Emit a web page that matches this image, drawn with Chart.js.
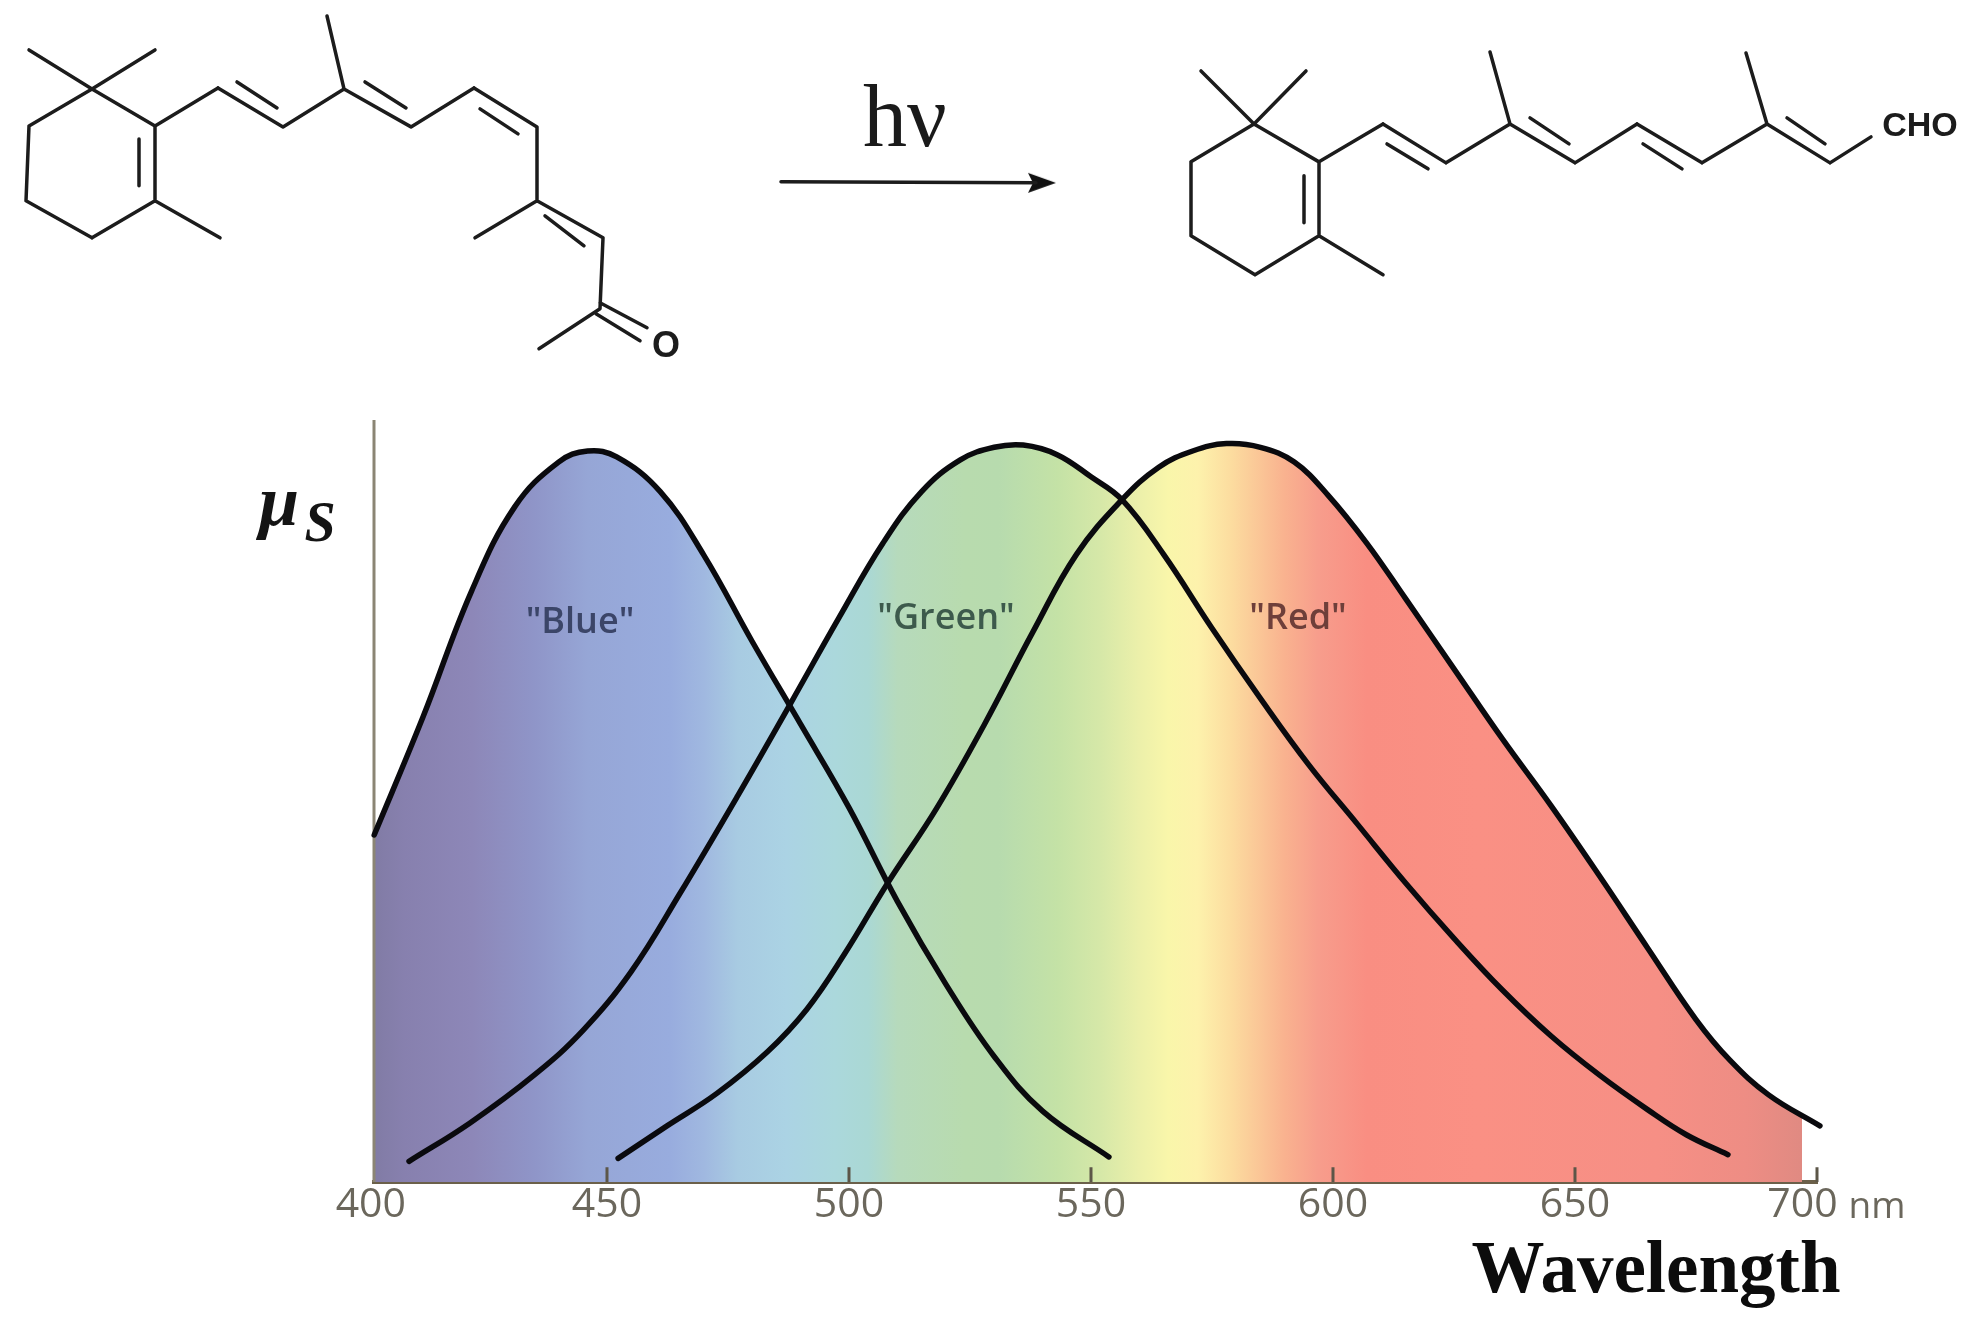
<!DOCTYPE html>
<html>
<head>
<meta charset="utf-8">
<title>Cone absorption spectra</title>
<script src="https://cdn.jsdelivr.net/npm/chart.js@4/dist/chart.umd.min.js"></script>
<style>
    html, body { margin: 0; padding: 0; background: #fff; }
    #chartBox { width: 1972px; height: 1325px; }
</style>
</head>
<body>
<div id="chartBox"><canvas id="coneChart" width="1972" height="1325"></canvas></div>
<script>
/* ==================== DATA ==================== */

const tickLabels = ['400', '450', '500', '550', '600', '650', '700'];
const tickLabelWave = [401.2, 450, 500, 550, 600, 650, 697];
const tickMarkValues = [450, 500, 550, 600, 650, 700];
const coneNames = ['"Blue"', '"Green"', '"Red"'];

const blueWave = [401.9, 412, 422, 431, 440, 446, 452, 461, 470, 480, 490, 500, 510, 520, 530, 540, 553.7];
const blueVal = [47, 63, 80, 91.5, 97.5, 99, 98.2, 93.5, 84.9, 73.2, 62, 50.7, 38, 26.8, 17, 9.6, 3.4];

const greenWave = [409.1, 421.7, 435, 445, 455, 465, 477, 488, 498, 507, 515, 523, 530, 536, 543, 550, 556.4, 565, 575, 585, 595, 605, 615, 625, 635, 645, 655, 665, 673, 681.6];
const greenVal = [2.8, 8, 14.5, 20.5, 28.5, 39, 52.3, 64.9, 76.5, 86.5, 93.5, 97.8, 99.5, 99.8, 98.5, 95.5, 92.4, 85, 75, 65.5, 56.5, 48.5, 40.5, 33, 26, 19.8, 14.5, 9.8, 6.4, 3.7];

const redWave = [452.3, 462.4, 472.7, 483.1, 491.3, 499, 508, 518, 528, 538, 547, 556.4, 564, 571, 578, 585, 592, 599, 607, 615, 625, 635, 645, 655, 665, 675, 682, 690, 700.6];
const redVal = [3.2, 7.6, 12, 17.6, 23.4, 30.8, 40.5, 50.5, 62, 74.5, 85, 92.4, 96.8, 99, 100, 99.5, 97.5, 93, 86.5, 79, 69.5, 60, 51, 41.5, 31.7, 22, 16.5, 11.8, 7.6];

// Spectrum colours under the curves
const spectrumWave = [400, 408, 422, 435, 446, 463, 470, 477, 487, 497, 504, 510, 524, 531, 543, 552, 560, 566, 572, 579, 590, 597, 607, 630, 667, 685, 696.9];
const spectrumColors = ['#7f7aa2', '#8780ae', '#8d87b8', '#8f95c8', '#96a6d6', '#98acde', '#a0b8e0', '#a8cbe2', '#abd3e4', '#abd8dc', '#aad8d4', '#b6dabc', '#b8dbae', '#b7dbae', '#c4e2a6', '#d6e8a8', '#ecf0aa', '#f9f6aa', '#fdf2ac', '#fcdc9f', '#f9b28f', '#f79d8c', '#f98e82', '#fa9084', '#f68f85', '#ee8d84', '#e08a82'];

// Molecule bonds, each one [x1, y1, x2, y2] in picture units
const leftBonds = [
    [92, 88, 29, 125], [29, 125, 26, 200], [26, 200, 92, 237], [92, 237, 155, 200], [155, 200, 155, 125], [155, 125, 92, 88],
    [92, 88, 29, 49], [92, 88, 155, 49], [155, 200, 220, 237], [139, 138, 139, 185],
    [155, 125, 218, 87], [218, 87, 283, 126], [283, 126, 344, 88], [344, 88, 327, 15], [344, 88, 411, 126],
    [411, 126, 474, 87], [474, 87, 537, 126], [537, 126, 537, 200], [537, 200, 603, 237], [537, 200, 475, 237],
    [603, 237, 600, 308], [600, 308, 539, 348], [600, 302, 647, 327], [596, 313, 640, 340],
    [237, 81, 277, 107], [365, 81, 406, 107], [480, 108, 518, 133], [545, 215, 584, 245]
];
const rightBonds = [
    [1254, 123, 1191, 161], [1191, 161, 1191, 235], [1191, 235, 1255, 274], [1255, 274, 1319, 235], [1319, 235, 1319, 161], [1319, 161, 1254, 123],
    [1254, 123, 1201, 70], [1254, 123, 1306, 70], [1319, 235, 1383, 274], [1304, 175, 1304, 222],
    [1319, 161, 1383, 123], [1383, 123, 1446, 162], [1446, 162, 1510, 123], [1510, 123, 1490, 51], [1510, 123, 1575, 162],
    [1575, 162, 1637, 123], [1637, 123, 1702, 162], [1702, 162, 1767, 123], [1767, 123, 1746, 52], [1767, 123, 1830, 162], [1830, 162, 1871, 136],
    [1387, 143, 1428, 168], [1530, 117, 1569, 143], [1643, 143, 1682, 168], [1787, 117, 1825, 143]
];
const arrowShaft = [781, 181, 1036, 182];
const arrowHead = [1042, 182];

/* ==================== HELPERS ==================== */

// Pair up wavelength and value arrays for a line dataset
function toPoints(xs, ys) {
    return xs.map((x, i) => ({ x: x, y: ys[i] }));
}

// Flatten bonds into one broken line, null points make the gaps
function bondPoints(bonds) {
    const out = [];
    bonds.forEach(b => {
        out.push({ x: b[0], y: b[1] }, { x: b[2], y: b[3] }, { x: b[2], y: null });
    });
    return out;
}

// Short upward tick marks, the axis itself only draws its labels
function tickMarkPoints(height) {
    const out = [];
    tickMarkValues.forEach(v => {
        out.push({ x: v, y: 0 }, { x: v, y: height }, { x: v, y: null });
    });
    return out;
}

// Horizontal spectrum gradient, sharp cut where the colour band stops
function spectrumFill(context) {
    const chart = context.chart;
    const xScale = chart.scales.x;
    const left = xScale ? xScale.getPixelForValue(400) : NaN;
    const right = xScale ? xScale.getPixelForValue(701) : NaN;
    if (!Number.isFinite(left) || !Number.isFinite(right)) return '#94a6d8';
    const grad = chart.ctx.createLinearGradient(left, 0, right, 0);
    spectrumWave.forEach((w, i) => grad.addColorStop((w - 400) / 301, spectrumColors[i]));
    grad.addColorStop((696.95 - 400) / 301, 'rgba(255,255,255,0)');
    grad.addColorStop(1, 'rgba(255,255,255,0)');
    return grad;
}

// Notched arrow head, used as the point style of the arrow dataset
function arrowHeadImage() {
    const c = document.createElement('canvas');
    c.width = 30;
    c.height = 22;
    const g = c.getContext('2d');
    g.fillStyle = '#111';
    g.beginPath();
    g.moveTo(1, 1);
    g.lineTo(29, 11);
    g.lineTo(1, 21);
    g.lineTo(6, 11);
    g.closePath();
    g.fill();
    return c;
}

function coneDataset(xs, ys) {
    return {
        type: 'line',
        data: toPoints(xs, ys),
        borderColor: '#0a0a0e',
        borderWidth: 5.5,
        backgroundColor: spectrumFill,
        fill: 'origin',
        tension: 0.4,
        borderCapStyle: 'round',
        pointRadius: 0,
        clip: false
    };
}

function bondDataset(bonds) {
    return {
        type: 'line',
        xAxisID: 'molX',
        yAxisID: 'molY',
        data: bondPoints(bonds),
        borderColor: '#1c1c1c',
        borderWidth: 3.5,
        borderCapStyle: 'round',
        pointRadius: 0,
        fill: false,
        tension: 0,
        spanGaps: false,
        clip: false
    };
}

/* ==================== TEXT PLUGIN ==================== */

const SERIF = '"Liberation Serif", serif';
const SANS = '"Open Sans", sans-serif';
const ARIAL = '"Liberation Sans", sans-serif';
const textItems = [
    { text: coneNames[0], x: 580, y: 633, font: '600 36px ' + SANS, color: '#3b4568' },
    { text: coneNames[1], x: 946, y: 629, font: '600 36px ' + SANS, color: '#3d5a4c' },
    { text: coneNames[2], x: 1298, y: 629, font: '600 36px ' + SANS, color: '#6e3f3a' },
    { text: 'nm', x: 1877, y: 1218, font: '37px ' + SANS, color: '#6b675c' },
    { text: 'Wavelength', x: 1656, y: 1292, font: 'bold 73px ' + SERIF, color: '#0c0c0c' },
    { text: 'hν', x: 905, y: 145, font: '88px ' + SERIF, color: '#1a1a1a' },
    { text: 'μ', x: 279, y: 524, font: 'italic bold 72px ' + SERIF, color: '#141414' },
    { text: 'S', x: 320, y: 540, font: 'italic bold 56px ' + SERIF, color: '#141414' },
    { text: 'O', x: 666, y: 356, font: 'bold 36px ' + ARIAL, color: '#1c1c1c' },
    { text: 'CHO', x: 1920, y: 135, font: 'bold 34px ' + ARIAL, color: '#1c1c1c' }
];

const textPlugin = {
    id: 'pictureText',
    afterDraw(chart) {
        const ctx = chart.ctx;
        ctx.save();
        ctx.textAlign = 'center';
        ctx.textBaseline = 'alphabetic';
        textItems.forEach(t => {
            ctx.font = t.font;
            ctx.fillStyle = t.color;
            ctx.fillText(t.text, chart.scales.molX.getPixelForValue(t.x), chart.scales.molY.getPixelForValue(t.y));
        });
        ctx.restore();
    }
};

/* ==================== CHART ==================== */

new Chart(document.getElementById('coneChart').getContext('2d'), {
    type: 'line',
    data: {
        datasets: [
            coneDataset(blueWave, blueVal),
            coneDataset(greenWave, greenVal),
            coneDataset(redWave, redVal),
            {
                // vertical axis line stops well below the top of the canvas
                type: 'line',
                data: [{ x: 401.86, y: 0 }, { x: 401.86, y: 103.2 }],
                borderColor: '#8b8574',
                borderWidth: 3,
                pointRadius: 0,
                fill: false,
                clip: false
            },
            {
                type: 'line',
                data: tickMarkPoints(2),
                borderColor: '#5c5648',
                borderWidth: 3,
                pointRadius: 0,
                fill: false,
                tension: 0,
                clip: false
            },
            bondDataset(leftBonds),
            bondDataset(rightBonds),
            bondDataset([arrowShaft]),
            {
                type: 'scatter',
                xAxisID: 'molX',
                yAxisID: 'molY',
                data: [{ x: arrowHead[0], y: arrowHead[1] }],
                pointStyle: arrowHeadImage(),
                clip: false
            }
        ]
    },
    options: {
        responsive: false,
        animation: false,
        layout: { padding: { top: 0, right: 155, left: 0, bottom: 0 } },
        plugins: {
            legend: { display: false },
            title: { display: false },
            tooltip: { enabled: false },
            filler: { drawTime: 'beforeDatasetsDraw' }
        },
        scales: {
            x: {
                type: 'linear',
                min: 401.86,
                max: 700,
                afterBuildTicks: s => { s.ticks = tickLabelWave.map(v => ({ value: v })); },
                afterFit: s => { s.height = 143; },
                grid: { display: false },
                border: { color: '#6b604a', width: 4 },
                ticks: {
                    autoSkip: false,
                    maxRotation: 0,
                    padding: -9,
                    color: '#6b675c',
                    font: { family: 'Open Sans', size: 41 },
                    callback: (value, index) => tickLabels[index]
                }
            },
            y: {
                min: 0,
                // the plot area starts a few pixels below the canvas top
                max: 159.4,
                afterFit: s => { s.width = 374; },
                grid: { display: false },
                border: { display: false },
                ticks: { display: false }
            },
            // picture units for the molecules and the text above the plot
            molX: { type: 'linear', display: false, min: 374, max: 1817 },
            molY: { type: 'linear', display: false, min: 4, max: 1182, reverse: true }
        }
    },
    plugins: [textPlugin]
});
</script>
</body>
</html>
